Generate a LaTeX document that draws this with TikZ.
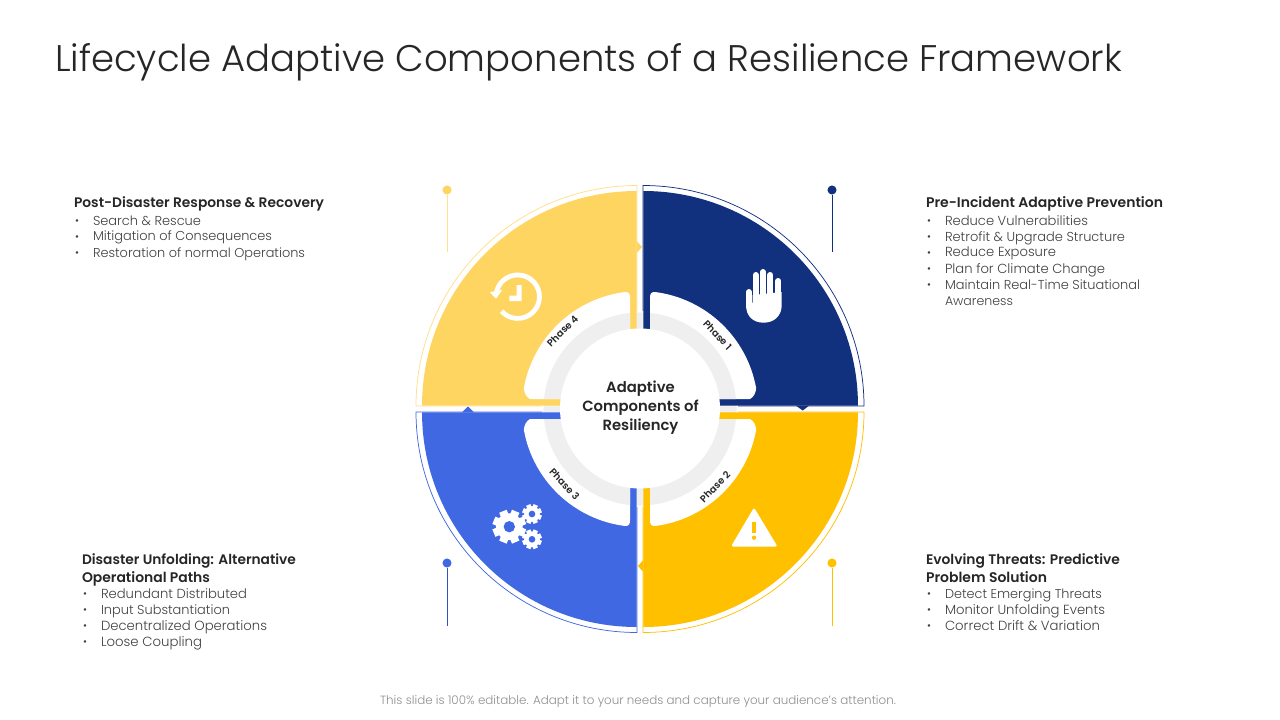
\documentclass[tikz,border=0pt]{standalone}
\usepackage{graphicx}
\usepackage{fontspec}
\setmainfont{Poppins}[UprightFont=* Light,BoldFont=* SemiBold]
\usetikzlibrary{calc}
\definecolor{navy}{HTML}{11307E}
\definecolor{blu}{HTML}{3F68E2}
\definecolor{yel}{HTML}{FFC000}
\definecolor{lyel}{HTML}{FFD561}
\definecolor{ringg}{HTML}{EFEFEF}
\definecolor{ink}{HTML}{262626}
\definecolor{body}{HTML}{404040}
\definecolor{foot}{HTML}{8F8F8F}
\newdimen\tlw
\newcommand{\tl}[6]{% name x1 x2 ybase font text
  \pgfmathsetlength\tlw{(#3-(#2))*0.75pt}%
  \node[txt] (#1) at (#2,#4) {\resizebox{\tlw}{!}{#5{}#6}};}
\newcommand{\bul}[4]{\node[bulletmark,text=#4] (#1) at (#2,#3+2) {•};}
\newcommand{\bandpath}{(10,10) -- (10,111) .. controls (10,115) and (11,117.2) .. (15,117) arc[start angle=82.7,end angle=10.2,radius=88.5pt] .. controls (116,17) and (114,12) .. (110,10) -- cycle}
\newcommand{\quadr}[4]{% sx sy fill line
  \begin{scope}[shift={(640,409)},x=0.75pt,y=0.75pt,xscale=#1,yscale=#2]
    \draw[outl,draw=#4] (3,98) -- (3,223.5) arc[start angle=90,end angle=0,x radius=165.75pt,y radius=165.4pt] -- (98,3);
    \fill[#3] (3.3,3.3) -- (3.3,218) arc[start angle=90,end angle=0,radius=161pt] -- cycle;
  \end{scope}}
\newcommand{\bandq}[2]{%
  \begin{scope}[shift={(640,409)},x=0.75pt,y=0.75pt,xscale=#1,yscale=#2]
    \fill[white] \bandpath;
    \begin{scope}
      \clip \bandpath;
      \fill[ringg] (0,0) circle[radius=72.4pt];
    \end{scope}
  \end{scope}}
\newcommand{\gearicon}[3]{%
  \begin{scope}[shift={(#1,#2)},x=0.75pt,y=0.75pt]
    \fill[white] (0,0) circle[radius=#3*0.8*0.75pt];
    \foreach \a in {0,45,...,315}
      \fill[white,rotate=\a+22.5] (-#3*0.24,0) rectangle (#3*0.24,#3);
    \fill[blu] (0,0) circle[radius=#3*0.34*0.75pt];
  \end{scope}}
\tikzset{
  txt/.style={anchor=base west,inner sep=0pt,outer sep=0pt},
  bulletmark/.style={anchor=center,inner sep=0pt,font=\fontsize{8}{8}\selectfont},
  outl/.style={line width=0.55pt,fill=none},
  stem/.style={line width=0.6pt},
  dotm/.style={circle,inner sep=0pt,minimum size=6.8pt},
  phaselabel/.style={inner sep=0pt,text=ink,font=\bfseries\fontsize{7.3}{8}\selectfont},
  centerlabel/.style={anchor=base,inner sep=0pt,text=ink,font=\bfseries\fontsize{11.1}{12}\selectfont}
}
\begin{document}
\begin{tikzpicture}[x=0.75pt,y=-0.75pt]
\useasboundingbox (0,0) rectangle (1280,720);
\fill[white] (0,0) rectangle (1280,720);
% grey ring underlay
\fill[ringg] (640,409) circle[radius=72.4pt];
% quadrants
\quadr{1}{1}{navy}{navy}
\quadr{1}{-1}{yel}{yel}
\quadr{-1}{-1}{blu}{blu}
\quadr{-1}{1}{lyel}{lyel!75}
% small tips
\fill[navy] (796,405.7) -- (809,405.7) -- (802.7,410.5) -- cycle;
\fill[yel] (643.3,560) -- (643.3,572) -- (638,566) -- cycle;
\fill[blu] (462,412.3) -- (474,412.3) -- (468,406.5) -- cycle;
\fill[lyel] (636.7,241) -- (636.7,253) -- (642,247) -- cycle;
% white bands
\bandq{1}{1}\bandq{1}{-1}\bandq{-1}{-1}\bandq{-1}{1}
\node[circle,fill=white,inner sep=0pt,minimum size=120pt] (hub) at (640,408.5) {};
% stems
\node[dotm,fill=navy] (d1) at (832,190) {};
\coordinate (e1) at (832,252);
\draw[stem,navy] (d1) -- (e1);
\node[dotm,fill=lyel] (d4) at (447,190) {};
\coordinate (e4) at (447,252);
\draw[stem,lyel!70] (d4) -- (e4);
\node[dotm,fill=blu] (d3) at (447,563) {};
\coordinate (e3) at (447,626);
\draw[stem,blu!80!black] (d3) -- (e3);
\node[dotm,fill=yel] (d2) at (832,563) {};
\coordinate (e2) at (832,626);
\draw[stem,yel] (d2) -- (e2);
% hand
\fill[white] (746,300) -- (746,305) .. controls (746,316) and (753,322.7) .. (763.5,322.7) .. controls (774,322.7) and (781.7,316) .. (781.7,305) -- (781.7,292) -- (752.7,295) -- (752.7,303) -- cycle;
\begin{scope}[white,line width=4.5pt,line cap=round]
\draw (748.9,292) -- (748.9,306);
\draw (755.6,275) -- (755.6,300);
\draw (763,272) -- (763,300);
\draw (770.3,275) -- (770.3,300);
\draw (778.4,281) -- (778.4,300);
\end{scope}
% warning
\fill[white,rounded corners=1.6pt] (754,507.5) -- (777.5,546.5) -- (731,546.5) -- cycle;
\draw[yel,line width=2.6pt] (754,521.5) -- (754,533);
\fill[yel] (754,537.7) circle[radius=1.6pt];
% gears
\gearicon{509.3}{526.7}{16.7}
\gearicon{532}{514}{9.8}
\gearicon{532}{539.3}{9.8}
% history clock
\begin{scope}[shift={(517.7,296.7)},x=0.75pt,y=0.75pt]
\draw[white,line width=3.6pt] (-138:21.7) arc[start angle=-138,end angle=167,radius=16.3pt];
\fill[white] (-28,4.6) -- (-15.5,6.7) -- (-21.7,-2) -- cycle;
\fill[white] (-8.4,-4.3) -- (4,-4.3) -- (4,11.7) -- (-1,11.7) -- (-1,1) -- (-8.4,1) -- cycle;
\end{scope}
% phase labels
\node[phaselabel,rotate=-47] (p1) at (717.5,335) {Phase 1};
\node[phaselabel,rotate=45] (p2) at (715,487) {Phase 2};
\node[phaselabel,rotate=-47] (p3) at (564.5,484) {Phase 3};
\node[phaselabel,rotate=45] (p4) at (562.5,331) {Phase 4};
% centre label
\node[centerlabel] (c1) at (640.5,392) {Adaptive};
\node[centerlabel] (c2) at (640.5,411) {Components of};
\node[centerlabel] (c3) at (640.5,430) {Resiliency};
% title
\tl{title}{55}{1122}{72}{\color{ink}\fontsize{27}{30}\selectfont}{Lifecycle Adaptive Components of a Resilience Framework}
% top-left
\tl{h4}{74}{324}{208}{\bfseries\color{ink}\fontsize{10}{12}\selectfont}{Post-Disaster Response \& Recovery}
\bul{b41}{77}{220.5}{body}\tl{t41}{93}{201}{225}{\color{body}\fontsize{9.5}{12}\selectfont}{Search \& Rescue}
\bul{b42}{77}{236.5}{body}\tl{t42}{93}{272}{241}{\color{body}\fontsize{9.5}{12}\selectfont}{Mitigation of Consequences}
\bul{b43}{77}{252.5}{body}\tl{t43}{93}{305}{257}{\color{body}\fontsize{9.5}{12}\selectfont}{Restoration of normal Operations}
% top-right
\tl{h1}{926}{1163}{208}{\bfseries\color{ink}\fontsize{10}{12}\selectfont}{Pre-Incident Adaptive Prevention}
\bul{b11}{929}{220.5}{body}\tl{t11}{945}{1088}{225}{\color{body}\fontsize{9.5}{12}\selectfont}{Reduce Vulnerabilities}
\bul{b12}{929}{236.5}{body}\tl{t12}{945}{1125}{241}{\color{body}\fontsize{9.5}{12}\selectfont}{Retrofit \& Upgrade Structure}
\bul{b13}{929}{252.5}{body}\tl{t13}{945}{1056}{257}{\color{body}\fontsize{9.5}{12}\selectfont}{Reduce Exposure}
\bul{b14}{929}{268.5}{body}\tl{t14}{945}{1105}{273}{\color{body}\fontsize{9.5}{12}\selectfont}{Plan for Climate Change}
\bul{b15}{929}{284.5}{body}\tl{t15}{945}{1140}{289}{\color{body}\fontsize{9.5}{12}\selectfont}{Maintain Real-Time Situational}
\tl{t16}{945}{1013}{305}{\color{body}\fontsize{9.5}{12}\selectfont}{Awareness}
% bottom-left
\tl{h3a}{82}{296}{564}{\bfseries\color{ink}\fontsize{10}{12}\selectfont}{Disaster Unfolding: Alternative}
\tl{h3b}{82}{210}{582}{\bfseries\color{ink}\fontsize{10}{12}\selectfont}{Operational Paths}
\bul{b31}{85}{593.5}{body}\tl{t31}{101}{247}{598}{\color{body}\fontsize{9.5}{12}\selectfont}{Redundant Distributed}
\bul{b32}{85}{609.5}{body}\tl{t32}{101}{230}{614}{\color{body}\fontsize{9.5}{12}\selectfont}{Input Substantiation}
\bul{b33}{85}{625.5}{body}\tl{t33}{101}{267}{630}{\color{body}\fontsize{9.5}{12}\selectfont}{Decentralized Operations}
\bul{b34}{85}{641.5}{body}\tl{t34}{101}{202}{646}{\color{body}\fontsize{9.5}{12}\selectfont}{Loose Coupling}
% bottom-right
\tl{h2a}{926}{1120}{564}{\bfseries\color{ink}\fontsize{10}{12}\selectfont}{Evolving Threats: Predictive}
\tl{h2b}{926}{1047}{582}{\bfseries\color{ink}\fontsize{10}{12}\selectfont}{Problem Solution}
\bul{b21}{929}{593.5}{body}\tl{t21}{945}{1102}{598}{\color{body}\fontsize{9.5}{12}\selectfont}{Detect Emerging Threats}
\bul{b22}{929}{609.5}{body}\tl{t22}{945}{1105}{614}{\color{body}\fontsize{9.5}{12}\selectfont}{Monitor Unfolding Events}
\bul{b23}{929}{625.5}{body}\tl{t23}{945}{1100}{630}{\color{body}\fontsize{9.5}{12}\selectfont}{Correct Drift \& Variation}
% footer
\tl{foot}{380}{896}{704}{\color{foot}\fontsize{9}{11}\selectfont}{This slide is 100\% editable. Adapt it to your needs and capture your audience's attention.}
\end{tikzpicture}
\end{document}
